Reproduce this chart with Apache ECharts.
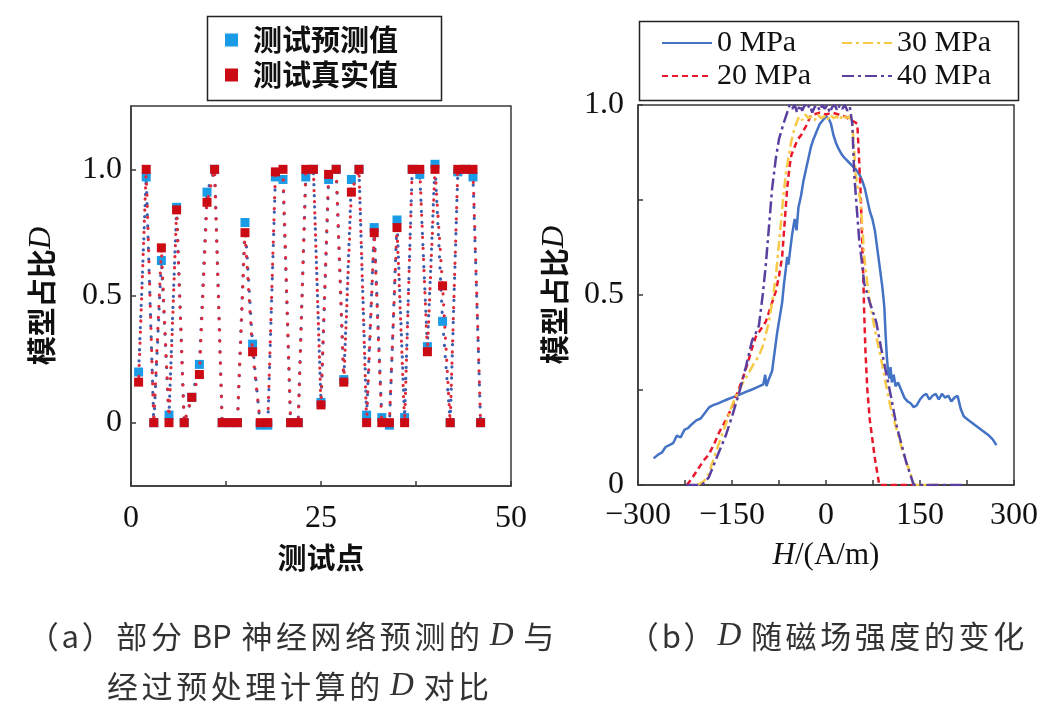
<!DOCTYPE html>
<html><head><meta charset="utf-8">
<script src="https://cdn.jsdelivr.net/npm/echarts@6/dist/echarts.min.js"></script>
<style>html,body{margin:0;padding:0;background:#fff}#c{width:1058px;height:718px}</style>
</head><body><div id="c"></div>
<script>
// ---- Panel (a) data ----
const testPoints = [1,2,3,4,5,6,7,8,9,10,11,12,13,14,15,16,17,18,19,20,21,22,23,24,25,26,27,28,29,30,31,32,33,34,35,36,37,38,39,40,41,42,43,44,45,46];
const predicted = [0.20,0.97,0.00,0.64,0.03,0.85,0.00,0.10,0.23,0.91,1.00,0.00,0.00,0.00,0.79,0.31,-0.01,-0.01,0.97,0.96,0.00,0.00,0.97,1.00,0.08,0.96,1.00,0.17,0.96,1.00,0.03,0.77,0.02,-0.01,0.80,0.02,1.00,0.98,0.30,1.02,0.40,0.00,0.99,1.00,0.97,0.00];
const actual = [0.16,1.00,0.00,0.69,0.00,0.84,0.00,0.10,0.19,0.87,1.00,0.00,0.00,0.00,0.75,0.28,0.00,0.00,0.99,1.00,0.00,0.00,1.00,1.00,0.07,0.98,1.00,0.16,0.91,1.00,0.00,0.75,0.00,0.00,0.77,0.00,1.00,1.00,0.28,1.00,0.54,0.00,1.00,1.00,1.00,0.00];
const seriesNamesA = ['测试预测值','测试真实值'];

// ---- Panel (b) data ----
const seriesNamesB = ['0 MPa','20 MPa','30 MPa','40 MPa'];
const h0 = [-275,-268,-262,-256,-250,-244,-238,-232,-226,-220,-214,-207,-200,-193,-186,-180,-172,-165,-158,-150,-142,-135,-128,-120,-113,-106,-100,-97,-95,-92,-89,-86,-82,-78,-74,-70,-67,-64,-62,-60,-57,-54,-50,-47,-44,-40,-36,-32,-28,-24,-20,-15,-10,-5,0,4,8,12,16,20,25,30,36,42,48,54,58,62,66,70,74,78,82,86,90,93,95,97,99,101,103,105,108,111,115,120,125,130,135,140,145,150,155,160,165,170,175,180,185,190,195,200,205,210,215,220,228,236,244,252,260,266,272];
const d0 = [0.07,0.08,0.085,0.10,0.105,0.11,0.13,0.125,0.145,0.15,0.16,0.17,0.175,0.19,0.205,0.21,0.215,0.22,0.225,0.23,0.235,0.24,0.245,0.25,0.255,0.26,0.265,0.29,0.26,0.275,0.28,0.30,0.35,0.40,0.44,0.48,0.53,0.57,0.60,0.58,0.62,0.66,0.70,0.67,0.73,0.76,0.80,0.83,0.86,0.89,0.91,0.93,0.95,0.96,0.97,0.965,0.95,0.92,0.90,0.885,0.87,0.86,0.85,0.84,0.83,0.815,0.80,0.78,0.75,0.72,0.70,0.67,0.62,0.57,0.52,0.47,0.40,0.34,0.30,0.28,0.31,0.27,0.29,0.26,0.27,0.25,0.23,0.22,0.215,0.205,0.21,0.225,0.235,0.24,0.225,0.235,0.24,0.225,0.24,0.23,0.235,0.22,0.23,0.235,0.20,0.18,0.17,0.16,0.15,0.14,0.13,0.12,0.105];
const h20 = [-222,-215,-205,-195,-187,-178,-170,-160,-150,-142,-134,-125,-118,-112,-104,-96,-88,-80,-75,-70,-66,-62,-58,-55,-50,-45,-40,-35,-30,-25,-20,-10,0,10,20,30,40,46,50,53,55,57,59,61,63,66,70,74,78,82,85,140];
const d20 = [0,0.015,0.04,0.065,0.08,0.11,0.14,0.17,0.205,0.24,0.275,0.32,0.36,0.39,0.41,0.43,0.47,0.51,0.55,0.60,0.69,0.78,0.84,0.87,0.89,0.91,0.92,0.935,0.95,0.97,0.975,0.98,0.975,0.98,0.975,0.97,0.96,0.955,0.95,0.85,0.78,0.68,0.58,0.45,0.35,0.25,0.17,0.12,0.07,0.03,0,0];
const h30 = [-205,-195,-187,-175,-160,-150,-139,-125,-115,-107,-100,-91,-85,-80,-76,-72,-68,-64,-60,-56,-50,-43,-38,-33,-28,-23,-18,-13,-8,-3,2,7,12,17,22,27,32,37,42,45,47,51,55,58,61,66,71,79,87,95,103,112,122,128,135,140,180];
const d30 = [0,0.01,0.03,0.09,0.16,0.21,0.25,0.29,0.32,0.34,0.37,0.43,0.49,0.55,0.62,0.69,0.76,0.82,0.86,0.90,0.94,0.97,0.96,0.975,0.965,0.97,0.96,0.975,0.965,0.97,0.96,0.975,0.965,0.97,0.96,0.975,0.965,0.97,0.95,0.88,0.82,0.78,0.75,0.68,0.60,0.53,0.47,0.40,0.34,0.27,0.205,0.15,0.09,0.06,0.03,0,0];
const h40 = [-223,-198,-187,-175,-160,-150,-139,-128,-118,-112,-107,-101,-96,-91,-86,-80,-75,-68,-62,-58,-54,-50,-46,-42,-38,-34,-30,-26,-22,-18,-14,-10,-6,-2,2,6,10,14,18,22,26,30,34,38,42,45,49,53,57,61,70,80,88,96,104,112,120,128,134,138,140,220];
const d40 = [0,0,0.02,0.07,0.13,0.18,0.24,0.31,0.38,0.40,0.42,0.50,0.58,0.68,0.78,0.86,0.91,0.95,0.98,1.0,0.99,1.0,0.98,1.0,0.985,1.0,0.99,1.0,0.98,0.995,1.0,0.985,1.0,0.99,1.0,0.98,0.995,1.0,0.985,1.0,0.99,1.0,0.985,0.995,0.95,0.82,0.73,0.645,0.59,0.53,0.48,0.43,0.36,0.295,0.23,0.16,0.11,0.06,0.03,0.01,0,0];

// ---- captions ----
const captionA1 = '（a）部分 BP 神经网络预测的 D 与';
const captionA2 = '经过预处理计算的 D 对比';
const captionB = '（b）D 随磁场强度的变化';

const zip = (a, b) => a.map((v, i) => [v, b[i]]);
const SERIF = 'Liberation Serif';
const CJK = 'Noto Sans CJK SC';
const AX = '#3a3a3a';

// spaced rich-text caption: CJK glyphs padded, Latin runs kept tight, italic D in serif
function spaced(str) {
  let out = '';
  const parts = str.split(' ');
  parts.forEach((p, k) => {
    if (k > 0) out += ' ';
    if (/^[A-Z]{2,}$/.test(p)) { out += '{l|' + p + '}'; return; }
    for (const ch of p) {
      if (ch === 'D') out += '{i|D}';
      else if (/[a-zA-Z]/.test(ch)) out += '{l|' + ch + '}';
      else out += '{c|' + ch + '}';
    }
  });
  return out;
}
const capRich = {
  c: {fontFamily: CJK, fontSize: 31, fill: '#333', padding: [0, 1.8, 0, 1.8]},
  l: {fontFamily: CJK, fontSize: 31, fill: '#333', padding: [0, 1, 0, 1]},
  i: {fontFamily: SERIF, fontStyle: 'italic', fontSize: 33, fill: '#333', padding: [0, 1, 0, 1]}
};
const capStyle = (t) => ({text: spaced(t), align: 'center', verticalAlign: 'middle',
  fontFamily: CJK, fontSize: 31, fill: '#333', rich: capRich});

const chart = echarts.init(document.getElementById('c'), null, {renderer: 'canvas'});
const numFmt = v => (v === 0 ? '0' : v.toFixed(1));
const hFmt = v => (v < 0 ? '\u2212' + (-v) : String(v));

const yNameRich = {
  a: {fontFamily: CJK, fontSize: 29, fontWeight: 'bold', color: '#111'},
  b: {fontFamily: SERIF, fontSize: 31, fontStyle: 'italic', color: '#111'}
};

const option = {
  animation: false,
  backgroundColor: '#fff',
  grid: [
    {left: 131, top: 106, width: 380, height: 380, show: true, borderColor: AX, borderWidth: 1.5, backgroundColor: 'transparent'},
    {left: 638, top: 105, width: 376, height: 380, show: true, borderColor: AX, borderWidth: 1.5, backgroundColor: 'transparent'}
  ],
  xAxis: [
    {gridIndex: 0, type: 'value', min: 0, max: 50, interval: 12.5,
     axisLine: {show: true, onZero: false, lineStyle: {color: AX, width: 1.5}},
     axisTick: {show: true, inside: true, length: 5, lineStyle: {color: AX, width: 1.5}},
     axisLabel: {customValues: [0, 25, 50], formatter: v => String(v), fontFamily: SERIF, fontSize: 32, color: '#111', margin: 17},
     splitLine: {show: false},
     name: '测试点', nameLocation: 'middle', nameGap: 57,
     nameTextStyle: {fontFamily: CJK, fontSize: 29, fontWeight: 'bold', color: '#111'}},
    {gridIndex: 1, type: 'value', min: -300, max: 300, interval: 75,
     axisLine: {show: true, onZero: false, lineStyle: {color: AX, width: 1.5}},
     axisTick: {show: true, inside: true, length: 5, lineStyle: {color: AX, width: 1.5}},
     axisLabel: {customValues: [-300, -150, 0, 150, 300], formatter: hFmt, fontFamily: SERIF, fontSize: 32, color: '#111', margin: 15},
     splitLine: {show: false},
     name: '{i|H}{n|/(A/m)}', nameLocation: 'middle', nameGap: 55,
     nameTextStyle: {rich: {
       i: {fontFamily: SERIF, fontSize: 31, fontStyle: 'italic', color: '#111'},
       n: {fontFamily: SERIF, fontSize: 31, color: '#111'}}}}
  ],
  yAxis: [
    {gridIndex: 0, type: 'value', min: -0.25, max: 1.25, interval: 0.25,
     axisLine: {show: true, onZero: false, lineStyle: {color: AX, width: 1.5}},
     axisTick: {show: true, inside: true, length: 5, customValues: [0, 0.5, 1], lineStyle: {color: AX, width: 1.5}},
     axisLabel: {customValues: [0, 0.5, 1], formatter: numFmt, fontFamily: SERIF, fontSize: 32, color: '#111', margin: 9},
     splitLine: {show: false},
     name: '{a|模型占比}{b|D}', nameLocation: 'middle', nameGap: 74, nameRotate: 90,
     nameTextStyle: {rich: yNameRich}},
    {gridIndex: 1, type: 'value', min: 0, max: 1, interval: 0.25,
     axisLine: {show: true, onZero: false, lineStyle: {color: AX, width: 1.5}},
     axisTick: {show: true, inside: true, length: 5, lineStyle: {color: AX, width: 1.5}},
     axisLabel: {customValues: [0, 0.5, 1], formatter: numFmt, fontFamily: SERIF, fontSize: 32, color: '#111', margin: 14},
     splitLine: {show: false},
     name: '{a|模型占比}{b|D}', nameLocation: 'middle', nameGap: 68, nameRotate: 90,
     nameTextStyle: {rich: yNameRich}}
  ],
  legend: [
    {data: [{name: seriesNamesA[0], icon: 'rect'}, {name: seriesNamesA[1], icon: 'rect'}],
     orient: 'vertical', left: 220, top: 20, itemWidth: 13, itemHeight: 13, itemGap: 5,
     textStyle: {fontFamily: CJK, fontSize: 29, fontWeight: 'bold', color: '#111', lineHeight: 30, padding: [0, 0, 0, 10]}},
    {data: [seriesNamesB[0], seriesNamesB[1]],
     orient: 'vertical', left: 656, top: 23, itemWidth: 50, itemHeight: 14, itemGap: 3,
     itemStyle: {opacity: 0},
     textStyle: {fontFamily: SERIF, fontSize: 30, color: '#111', lineHeight: 30}},
    {data: [seriesNamesB[2], seriesNamesB[3]],
     orient: 'vertical', left: 836, top: 23, itemWidth: 50, itemHeight: 14, itemGap: 3,
     itemStyle: {opacity: 0},
     textStyle: {fontFamily: SERIF, fontSize: 30, color: '#111', lineHeight: 30}}
  ],
  graphic: [
    {type: 'rect', left: 205, top: 14, shape: {width: 234, height: 84}, style: {fill: 'none', stroke: '#222', lineWidth: 1.5}, z: 10},
    {type: 'rect', left: 637, top: 19, shape: {width: 379, height: 79}, style: {fill: 'none', stroke: '#222', lineWidth: 1.5}, z: 10},
    {type: 'text', x: 291, y: 636, style: capStyle(captionA1)},
    {type: 'text', x: 298, y: 686, style: capStyle(captionA2)},
    {type: 'text', x: 826, y: 636, style: capStyle(captionB)}
  ],
  series: [
    {name: seriesNamesA[0], type: 'line', xAxisIndex: 0, yAxisIndex: 0,
     data: zip(testPoints, predicted), symbol: 'rect', symbolSize: 9, showSymbol: true,
     itemStyle: {color: '#1a9be6'},
     lineStyle: {color: '#3a5fb0', width: 3.2, type: [0.1, 11], cap: 'round'}, z: 2},
    {name: seriesNamesA[1], type: 'line', xAxisIndex: 0, yAxisIndex: 0,
     data: zip(testPoints, actual), symbol: 'rect', symbolSize: 9, showSymbol: true,
     itemStyle: {color: '#cc0a14'},
     lineStyle: {color: '#e02a3a', width: 3.2, type: [0.1, 11], cap: 'round', dashOffset: 5.5}, z: 3},
    {name: seriesNamesB[0], type: 'line', xAxisIndex: 1, yAxisIndex: 1, data: zip(h0, d0), symbol: 'none',
     itemStyle: {color: '#4472c4'}, lineStyle: {color: '#4472c4', width: 2.5}, z: 2},
    {name: seriesNamesB[1], type: 'line', xAxisIndex: 1, yAxisIndex: 1, data: zip(h20, d20), symbol: 'none',
     itemStyle: {color: '#e8182a'}, lineStyle: {color: '#e8182a', width: 2.5, type: [6, 4]}, z: 3},
    {name: seriesNamesB[2], type: 'line', xAxisIndex: 1, yAxisIndex: 1, data: zip(h30, d30), symbol: 'none',
     itemStyle: {color: '#f7c948'}, lineStyle: {color: '#f7c948', width: 2.5, type: [10, 4, 3, 4]}, z: 4},
    {name: seriesNamesB[3], type: 'line', xAxisIndex: 1, yAxisIndex: 1, data: zip(h40, d40), symbol: 'none',
     itemStyle: {color: '#5a3f9e'}, lineStyle: {color: '#5a3f9e', width: 2.5, type: [12, 4, 3, 4]}, z: 5}
  ]
};
chart.setOption(option);
</script>
</body></html>
